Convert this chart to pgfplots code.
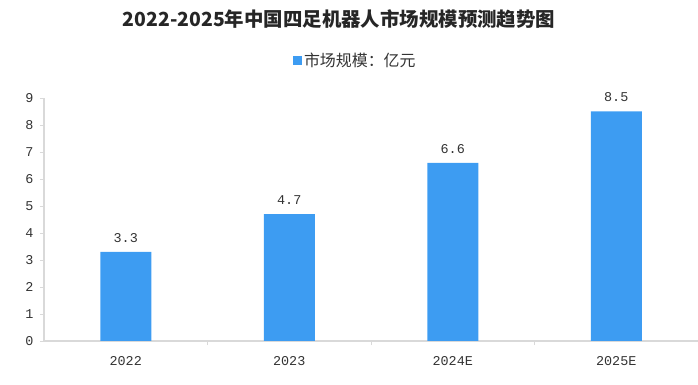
\documentclass[border=0pt]{standalone}
\usepackage{fontspec}
\setmainfont{Noto Sans CJK SC}
\newfontfamily\numfont{Liberation Mono}
\usepackage{pgfplots}
\pgfplotsset{compat=1.18}
\definecolor{barblue}{HTML}{3D9CF2}
\definecolor{axgray}{HTML}{D9D9D9}
\definecolor{txt}{HTML}{333333}
\begin{document}
\begin{tikzpicture}
\useasboundingbox (0,0) rectangle (698bp,385bp);
\node[font=\fontsize{19.5}{22}\selectfont\bfseries, text=black!85] at (339bp,366bp) {2022-2025年中国四足机器人市场规模预测趋势图};
\begin{axis}[
  at={(44bp,44bp)}, anchor=south west,
  scale only axis, width=654bp, height=243bp,
  xmin=-0.5, xmax=3.5, ymin=0, ymax=9,
  ytick={0,...,9},
  xtick={0,1,2,3},
  xticklabels={2022,2023,2024E,2025E},
  extra x ticks={0.5,1.5,2.5},
  extra x tick labels={},
  extra x tick style={xtick style={draw=axgray, line width=0.8bp}},
  xtick style={draw=none},
  ytick style={draw=axgray, line width=0.8bp},
  major tick length=4bp,
  tick align=outside,
  axis x line*=bottom, axis y line*=left,
  axis line style={draw=axgray, line width=1.2bp},
  /pgf/number format/assume math mode=true,
  ticklabel style={font=\numfont\fontsize{13.5}{15}\selectfont, text=txt},
  xticklabel style={yshift=-8bp},
  yticklabel style={xshift=-3bp},
  ybar, bar width=51bp,
  nodes near coords={\pgfmathprintnumber[fixed,fixed zerofill,precision=1]{\pgfplotspointmeta}},
  nodes near coords style={font=\numfont\fontsize{13.5}{15}\selectfont, text=txt, yshift=6bp},
  legend style={at={(axis description cs:0.476,1.156)}, anchor=center, draw=none, fill=none,
    font=\fontsize{16}{18}\selectfont, text=txt},
  legend image code/.code={\fill[barblue] (-2bp,-4.5bp) rectangle (7bp,4.5bp);},
]
\addplot[fill=barblue, draw=none] coordinates {(0,3.3) (1,4.7) (2,6.6) (3,8.5)};
\addlegendentry{市场规模：亿元}
\end{axis}
\end{tikzpicture}
\end{document}
